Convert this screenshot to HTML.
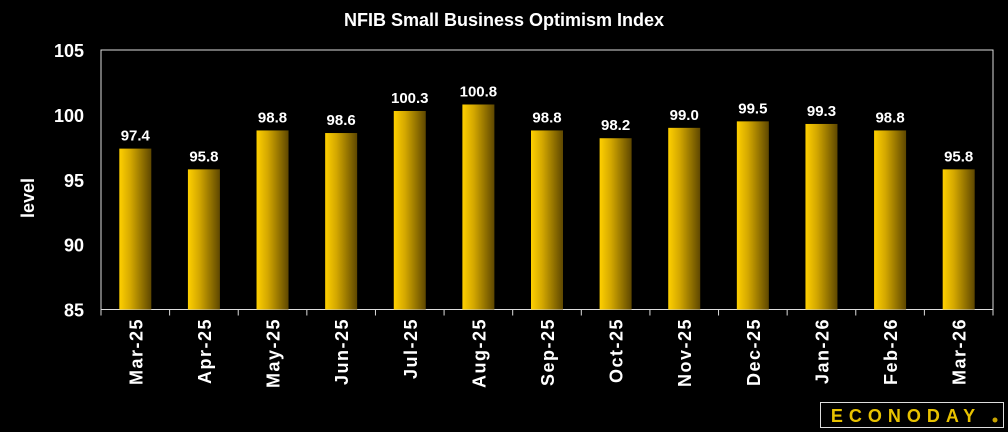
<!DOCTYPE html>
<html><head><meta charset="utf-8"><style>
body{margin:0;background:#000;width:1008px;height:432px;overflow:hidden}
svg{display:block;font-family:"Liberation Sans",sans-serif}
</style></head><body>
<svg width="1008" height="432">
<defs><linearGradient id="g" x1="0" x2="1" y1="0" y2="0">
<stop offset="0" stop-color="#ffd000"/><stop offset="0.35" stop-color="#d4a800"/><stop offset="1" stop-color="#5e4700"/></linearGradient></defs>
<text x="504" y="26" fill="#fff" font-size="18" font-weight="bold" text-anchor="middle">NFIB Small Business Optimism Index</text>
<text transform="translate(34,198) rotate(-90)" fill="#fff" font-size="18" font-weight="bold" text-anchor="middle">level</text>
<rect x="101" y="50" width="892" height="259.5" fill="none" stroke="#ddd" stroke-width="1"/>
<g id="yt"></g><g id="bars"></g><g id="xt"></g>
<rect x="820.5" y="402.5" width="183" height="25" fill="#000" stroke="#ddd" stroke-width="1"/>
<text x="906" y="422" fill="#e8c200" font-size="18" font-weight="bold" text-anchor="middle" letter-spacing="6">ECONODAY</text>
<circle cx="995" cy="420" r="2.5" fill="#c9a400"/>
</svg>
<script>
const categories=["Mar-25","Apr-25","May-25","Jun-25","Jul-25","Aug-25","Sep-25","Oct-25","Nov-25","Dec-25","Jan-26","Feb-26","Mar-26"];
const values=[97.4,95.8,98.8,98.6,100.3,100.8,98.8,98.2,99.0,99.5,99.3,98.8,95.8];
const yTicks=[85,90,95,100,105];
const L=101,R=993,T=50,B=309.5,ymin=85,ymax=105;
const ns="http://www.w3.org/2000/svg";
const y=v=>B-(v-ymin)/(ymax-ymin)*(B-T);
const cw=(R-L)/categories.length;
const xc=i=>L+cw*(i+0.5);
function mk(t,a,p){const e=document.createElementNS(ns,t);for(const k in a)e.setAttribute(k,a[k]);p.appendChild(e);return e;}
const yt=document.getElementById('yt'),bars=document.getElementById('bars'),xt=document.getElementById('xt');
yTicks.forEach(v=>{const t=mk('text',{x:84,y:y(v)+7,fill:'#fff','font-size':18,'font-weight':'bold','text-anchor':'end'},yt);t.textContent=v;

});
for(let i=0;i<=categories.length;i++){const l=mk('line',{x1:L+cw*i,x2:L+cw*i,y1:B,y2:B+6,stroke:'#ddd'},xt);

}
categories.forEach((c,i)=>{const v=values[i];
const r=mk('rect',{x:xc(i)-16,y:y(v),width:32,height:B-y(v),fill:'url(#g)'},bars);


const t=mk('text',{x:xc(i),y:y(v)-8,fill:'#fff','font-size':15,'font-weight':'bold','text-anchor':'middle'},bars);t.textContent=v.toFixed(1);


const xl=mk('text',{transform:`translate(${xc(i)+7},318) rotate(-90)`,fill:'#fff','font-size':18,'font-weight':'bold','letter-spacing':1.5,'text-anchor':'end'},xt);xl.textContent=c;

});
</script>
</body></html>
